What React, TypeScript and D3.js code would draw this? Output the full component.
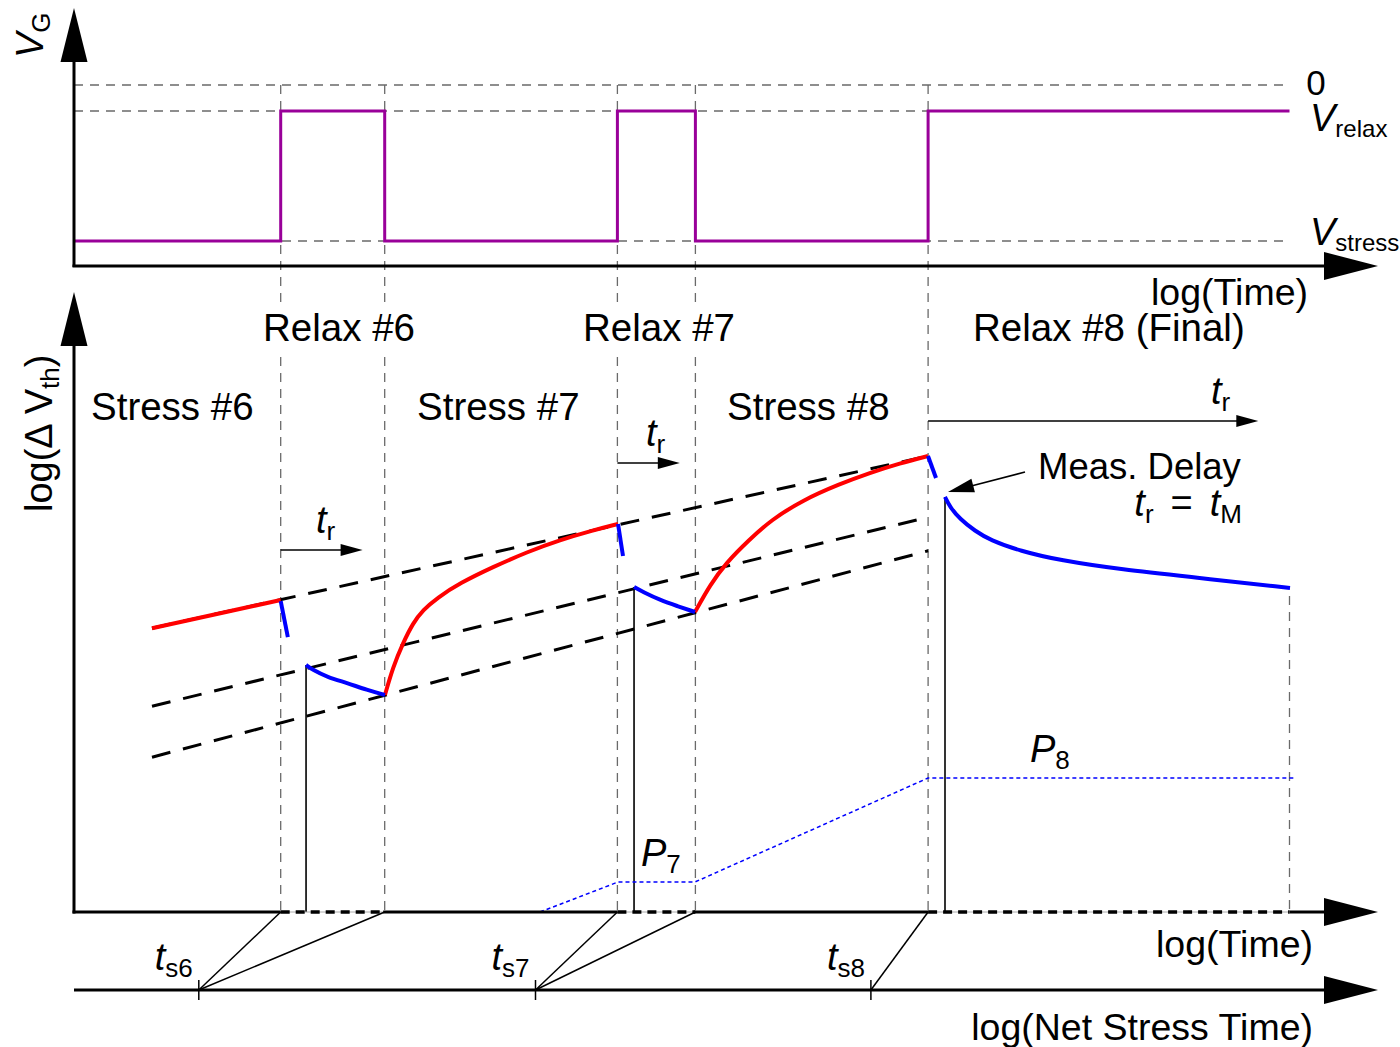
import React from "react";
import * as d3 from "d3";

const W = 1400;
const H = 1047;
const FONT = "'Liberation Sans', Arial, sans-serif";

// Phase boundaries on the log(Time) axis (arbitrary units): stress→relax, relax→stress, ...
const phaseEdges = [15.9, 23.9, 41.8, 47.8, 65.7];
const tEnd = 93.5;

// Gate voltage levels
const vgZero = 0;
const vgRelax = -0.2;
const vgStress = -1.2;
const vgSteps: [number, number][] = [
  [0, vgStress], [15.9, vgStress], [15.9, vgRelax], [23.9, vgRelax],
  [23.9, vgStress], [41.8, vgStress], [41.8, vgRelax], [47.8, vgRelax],
  [47.8, vgStress], [65.7, vgStress], [65.7, vgRelax], [93.5, vgRelax],
];

// log(ΔVth) traces (arbitrary units)
const stress6: [number, number][] = [[6.0, 47.3], [15.9, 52.0]];
const stress7: [number, number][] = [
  [23.92, 36.17], [24.54, 40.83], [25.31, 44.83], [26.08, 48.17], [26.85, 50.33],
  [27.92, 52.33], [29.69, 54.83], [32.23, 57.5], [34.85, 60.0], [37.38, 62.0],
  [39.92, 63.6], [41.85, 64.67],
];
const stress8: [number, number][] = [
  [47.77, 50.0], [48.92, 54.5], [50.15, 58.17], [51.92, 62.0], [53.62, 65.33],
  [56.08, 68.67], [58.85, 71.3], [61.23, 73.2], [63.54, 74.8], [65.69, 76.0],
];
const drop6: [number, number][] = [[15.9, 51.8], [16.45, 45.8]];
const drop7: [number, number][] = [[41.85, 64.67], [42.23, 59.33]];
const drop8: [number, number][] = [[65.69, 76.0], [66.31, 72.33]];
const recover6: [number, number][] = [
  [17.85, 41.17], [18.38, 40.33], [19.46, 39.17], [21.0, 38.17], [22.54, 37.0], [23.92, 36.17],
];
const recover7: [number, number][] = [
  [43.08, 54.17], [43.77, 53.33], [45.08, 52.0], [46.38, 51.0], [47.77, 50.0],
];
const recover8: [number, number][] = [
  [67.0, 69.17], [67.38, 67.5], [68.15, 65.5], [69.31, 63.5], [70.46, 62.0],
  [72.77, 60.17], [75.85, 58.6], [80.46, 57.1], [86.62, 55.67], [93.54, 54.0],
];

// Power-law trend lines (dashed)
const trendLines: [number, number][][] = [
  [[6.0, 47.3], [65.7, 76.0]],
  [[6.0, 34.3], [65.7, 65.8]],
  [[6.0, 25.8], [65.7, 60.2]],
];

// Permanent-component staircase
const permanent: [number, number][] = [
  [35.85, 0], [41.85, 5.0], [47.77, 5.0], [65.69, 22.33], [93.92, 22.33],
];

// Net stress time ticks and the relax edges they map to
const netTicks = [9.6, 35.5, 61.3];
const netTickLabels = ["6", "7", "8"];
const netLinks: number[][] = [[15.9, 23.9], [41.8, 47.8], [65.7]];

// Recovery time arrows: [start, end, level]
const trArrows: [number, number, number][] = [
  [15.9, 22.2, 60.33],
  [41.8, 46.6, 74.83],
  [65.7, 91.1, 81.83],
];

const x = d3.scaleLinear().domain([0, 100]).range([74, 1374]);
const yTop = d3.scaleLinear().domain([-1.4, 0]).range([267, 85]);
const y = d3.scaleLinear().domain([0, 100]).range([912, 312]);

const lineTop = d3.line<[number, number]>().x((d) => x(d[0])).y((d) => yTop(d[1]));
const lineBot = d3.line<[number, number]>().x((d) => x(d[0])).y((d) => y(d[1]));
const curveBot = d3
  .line<[number, number]>()
  .x((d) => x(d[0]))
  .y((d) => y(d[1]))
  .curve(d3.curveBasis);

const RED = "#ff0000";
const BLUE = "#0000ff";
const PURPLE = "#990099";
const GRAY = "#6a6a6a";

function Arrow({ x1, y1, x2, y2, w = 3, len = 54, half = 14 }: any) {
  const ang = Math.atan2(y2 - y1, x2 - x1);
  const bx = x2 - len * Math.cos(ang);
  const by = y2 - len * Math.sin(ang);
  const nx = -Math.sin(ang);
  const ny = Math.cos(ang);
  const pts = [
    [x2, y2],
    [bx + nx * half, by + ny * half],
    [bx - nx * half, by - ny * half],
  ];
  return (
    <g>
      <line x1={x1} y1={y1} x2={bx + 2 * Math.cos(ang)} y2={by + 2 * Math.sin(ang)} stroke="#000" strokeWidth={w} />
      <polygon points={pts.map((p) => p.join(",")).join(" ")} fill="#000" />
    </g>
  );
}

function TR({ px, py }: { px: number; py: number }) {
  return (
    <text x={px} y={py} fontSize={38} fontFamily={FONT}>
      <tspan fontStyle="italic">t</tspan>
      <tspan fontSize={26} dy={7}>r</tspan>
    </text>
  );
}

export default function App() {
  const edgeTop = yTop(vgZero);
  const axisY = y(0);
  const netY = 990;

  // solid and dashed pieces of the log(Time) axis
  const relaxSpans: [number, number][] = [
    [phaseEdges[0], phaseEdges[1]],
    [phaseEdges[2], phaseEdges[3]],
    [phaseEdges[4], tEnd],
  ];
  const solidSpans: [number, number][] = [
    [0, phaseEdges[0]],
    [phaseEdges[1], phaseEdges[2]],
    [phaseEdges[3], phaseEdges[4]],
  ];

  return (
    <svg width={W} height={H} viewBox={`0 0 ${W} ${H}`} style={{ display: "block", position: "absolute", left: 0, top: 0, background: "#fff" }}>
      <rect width={W} height={H} fill="#fff" />

      {/* ---------- gate voltage panel ---------- */}
      {[vgZero, vgRelax, vgStress].map((v, i) => (
        <line key={i} x1={x(0)} x2={x(tEnd)} y1={yTop(v)} y2={yTop(v)} stroke={GRAY} strokeWidth={1.3} strokeDasharray="9,7" />
      ))}

      {/* phase boundary guides */}
      {phaseEdges.map((t, i) => (
        <line key={i} x1={x(t)} x2={x(t)} y1={edgeTop} y2={axisY} stroke={GRAY} strokeWidth={1.3} strokeDasharray="9,7" />
      ))}
      <line x1={x(tEnd)} x2={x(tEnd)} y1={y(recover8[recover8.length - 1][1]) + 8} y2={axisY} stroke={GRAY} strokeWidth={1.3} strokeDasharray="9,7" />

      <path d={lineTop(vgSteps) || ""} fill="none" stroke={PURPLE} strokeWidth={3} />

      <Arrow x1={74} y1={yTop(-1.4)} x2={74} y2={8} half={13.5} />
      <Arrow x1={72.5} y1={266} x2={1378} y2={266} />

      <text x={43} y={58} fontSize={38} fontFamily={FONT} transform="rotate(-90 43 58)">
        <tspan fontStyle="italic">V</tspan>
        <tspan fontSize={26} dy={7}>G</tspan>
      </text>
      <text x={1316} y={95} fontSize={35} fontFamily={FONT} textAnchor="middle">0</text>
      <text x={1310} y={131} fontSize={38} fontFamily={FONT}>
        <tspan fontStyle="italic">V</tspan>
        <tspan fontSize={24} dy={6}>relax</tspan>
      </text>
      <text x={1310} y={245} fontSize={38} fontFamily={FONT}>
        <tspan fontStyle="italic">V</tspan>
        <tspan fontSize={24} dy={6}>stress</tspan>
      </text>
      <text x={1308} y={305} fontSize={37.5} fontFamily={FONT} textAnchor="end">log(Time)</text>

      {/* ---------- threshold shift panel ---------- */}
      {/* phase titles (guides broken behind them) */}
      <rect x={258} y={304} width={162} height={48} fill="#fff" />
      <rect x={578} y={304} width={164} height={48} fill="#fff" />
      <text x={263} y={341} fontSize={38.5} fontFamily={FONT}>Relax #6</text>
      <text x={583} y={341} fontSize={38.5} fontFamily={FONT}>Relax #7</text>
      <text x={973} y={341} fontSize={38.5} fontFamily={FONT}>Relax #8 (Final)</text>
      <text x={91} y={420} fontSize={38.5} fontFamily={FONT}>Stress #6</text>
      <text x={417} y={420} fontSize={38.5} fontFamily={FONT}>Stress #7</text>
      <text x={727} y={420} fontSize={38.5} fontFamily={FONT}>Stress #8</text>

      {/* measurement markers */}
      {[recover6, recover7, recover8].map((r, i) => (
        <line key={i} x1={x(r[0][0])} x2={x(r[0][0])} y1={y(r[0][1])} y2={axisY} stroke="#000" strokeWidth={1.6} />
      ))}

      {/* permanent component */}
      <path d={lineBot(permanent) || ""} fill="none" stroke={BLUE} strokeWidth={1.5} strokeDasharray="4,3" />
      <text x={641} y={866} fontSize={38} fontFamily={FONT}>
        <tspan fontStyle="italic">P</tspan>
        <tspan fontSize={26} dy={7}>7</tspan>
      </text>
      <text x={1030} y={762} fontSize={38} fontFamily={FONT}>
        <tspan fontStyle="italic">P</tspan>
        <tspan fontSize={26} dy={7}>8</tspan>
      </text>

      {/* trend lines, then stress and recovery traces over them */}
      {trendLines.map((seg, i) => (
        <path key={i} d={lineBot(seg) || ""} fill="none" stroke="#000" strokeWidth={3} strokeDasharray="19,13" />
      ))}
      {[stress6, stress7, stress8].map((s, i) => (
        <path key={i} d={curveBot(s) || ""} fill="none" stroke={RED} strokeWidth={4} />
      ))}
      {[drop6, drop7, drop8, recover6, recover7, recover8].map((s, i) => (
        <path key={i} d={curveBot(s) || ""} fill="none" stroke={BLUE} strokeWidth={4} />
      ))}

      {/* recovery time arrows */}
      {trArrows.map(([a, b, lv], i) => (
        <Arrow key={i} x1={x(a)} y1={y(lv)} x2={x(b)} y2={y(lv)} w={1.6} len={22} half={6} />
      ))}
      <TR px={316} py={533} />
      <TR px={646} py={446} />
      <TR px={1211} py={404} />

      {/* measurement delay */}
      <Arrow x1={1025} y1={472} x2={948} y2={492} w={1.6} len={26} half={7} />
      <text x={1038} y={479} fontSize={36.5} fontFamily={FONT}>Meas. Delay</text>
      <text x={1242} y={516} fontSize={38} fontFamily={FONT} textAnchor="end">
        <tspan fontStyle="italic">t</tspan>
        <tspan fontSize={26} dy={7}>r</tspan>
        <tspan dy={-7} dx={17}>=</tspan>
        <tspan dx={17} fontStyle="italic">t</tspan>
        <tspan fontSize={26} dy={7}>M</tspan>
      </text>

      {/* log(Time) axis: solid during stress, dashed during relax */}
      {relaxSpans.map(([a, b], i) => (
        <g key={i}>
          <line x1={x(a)} x2={x(b)} y1={axisY} y2={axisY} stroke="#aaa" strokeWidth={1} />
          <line x1={x(a)} x2={x(b)} y1={axisY} y2={axisY} stroke="#000" strokeWidth={3.5} strokeDasharray="9,6" />
        </g>
      ))}
      {solidSpans.map(([a, b], i) => (
        <line key={i} x1={x(a) - 1.5} x2={x(b)} y1={axisY} y2={axisY} stroke="#000" strokeWidth={3} />
      ))}
      <Arrow x1={x(tEnd)} y1={axisY} x2={1378} y2={axisY} />
      <Arrow x1={74} y1={axisY + 1.5} x2={74} y2={292} half={13.5} />
      <text x={1313} y={957} fontSize={37.5} fontFamily={FONT} textAnchor="end">log(Time)</text>

      <text x={52} y={512} fontSize={38} fontFamily={FONT} transform="rotate(-90 52 512)">
        log(Δ<tspan dx={9}>V</tspan>
        <tspan fontSize={26} dy={7}>th</tspan>
        <tspan dy={-7}>)</tspan>
      </text>

      {/* net stress time axis */}
      <Arrow x1={74} y1={netY} x2={1378} y2={netY} />
      {netTicks.map((t, i) => (
        <g key={i}>
          <line x1={x(t)} x2={x(t)} y1={netY - 10} y2={netY + 10} stroke="#000" strokeWidth={1.5} />
          {netLinks[i].map((e, j) => (
            <line key={j} x1={x(t)} y1={netY} x2={x(e)} y2={axisY} stroke="#000" strokeWidth={1.5} />
          ))}
          <text x={x(t) - 44} y={970} fontSize={38} fontFamily={FONT}>
            <tspan fontStyle="italic">t</tspan>
            <tspan fontSize={26} dy={7}>s{netTickLabels[i]}</tspan>
          </text>
        </g>
      ))}
      <text x={1313} y={1040} fontSize={37.5} fontFamily={FONT} textAnchor="end">log(Net Stress Time)</text>
    </svg>
  );
}
